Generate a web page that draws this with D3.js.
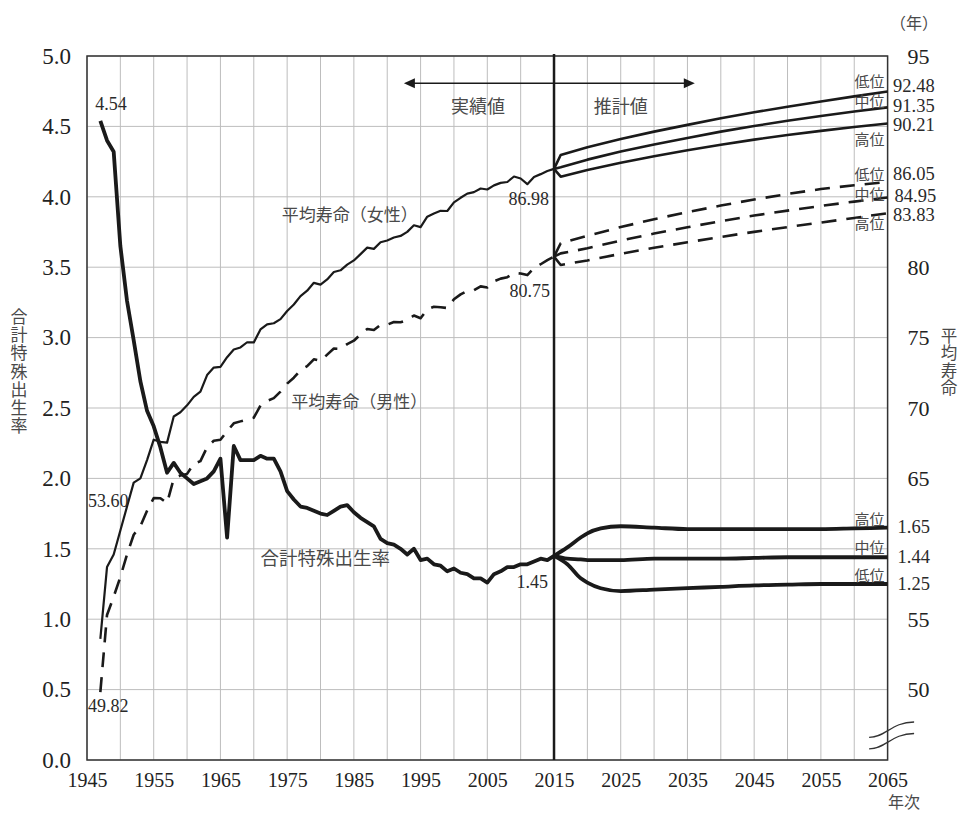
<!DOCTYPE html>
<html>
<head>
<meta charset="utf-8">
<script src="https://cdn.jsdelivr.net/npm/d3@7"></script>
<style>
  body { margin: 0; background: #fff; }
</style>
</head>
<body>
<div id="chart"></div>
<script>
// actual values 1947-2015
const actualYears = d3.range(1947, 2016);

const tfrActual = [
  4.54, 4.40, 4.32, 3.65, 3.26, 2.98, 2.69, 2.48, 2.37, 2.22,
  2.04, 2.11, 2.04, 2.00, 1.96, 1.98, 2.00, 2.05, 2.14, 1.58,
  2.23, 2.13, 2.13, 2.13, 2.16, 2.14, 2.14, 2.05, 1.91, 1.85,
  1.80, 1.79, 1.77, 1.75, 1.74, 1.77, 1.80, 1.81, 1.76, 1.72,
  1.69, 1.66, 1.57, 1.54, 1.53, 1.50, 1.46, 1.50, 1.42, 1.43,
  1.39, 1.38, 1.34, 1.36, 1.33, 1.32, 1.29, 1.29, 1.26, 1.32,
  1.34, 1.37, 1.37, 1.39, 1.39, 1.41, 1.43, 1.42, 1.45
];

const femaleActual = [
  53.60, 58.70, 59.60, 61.30, 63.00, 64.70, 65.00, 66.30, 67.75, 67.60,
  67.54, 69.40, 69.70, 70.19, 70.79, 71.16, 72.34, 72.87, 72.92, 73.61,
  74.15, 74.30, 74.67, 74.66, 75.58, 75.94, 76.02, 76.31, 76.89, 77.35,
  77.95, 78.33, 78.89, 78.76, 79.13, 79.66, 79.78, 80.18, 80.48, 80.93,
  81.39, 81.30, 81.77, 81.90, 82.11, 82.22, 82.51, 82.98, 82.85, 83.59,
  83.82, 84.01, 83.99, 84.60, 84.93, 85.23, 85.33, 85.59, 85.52, 85.81,
  85.99, 86.05, 86.44, 86.30, 85.90, 86.41, 86.61, 86.83, 86.98
];

const maleActual = [
  49.82, 55.30, 56.60, 58.00, 59.60, 61.00, 61.60, 62.70, 63.60, 63.59,
  63.24, 64.98, 65.21, 65.32, 66.03, 66.23, 67.21, 67.67, 67.74, 68.35,
  68.91, 69.05, 69.18, 69.31, 70.17, 70.50, 70.70, 71.16, 71.73, 72.15,
  72.69, 72.97, 73.46, 73.35, 73.79, 74.22, 74.20, 74.54, 74.78, 75.23,
  75.61, 75.54, 75.91, 75.92, 76.11, 76.09, 76.25, 76.57, 76.38, 77.01,
  77.19, 77.16, 77.10, 77.72, 78.07, 78.32, 78.36, 78.64, 78.56, 79.00,
  79.19, 79.29, 79.59, 79.55, 79.44, 79.94, 80.21, 80.50, 80.75
];

// projections
const tfrProjYears = [2015, 2017, 2019, 2020, 2022, 2025, 2030, 2035, 2040, 2045, 2050, 2055, 2060, 2065];
const tfrHigh = [1.45, 1.51, 1.58, 1.61, 1.645, 1.66, 1.65, 1.64, 1.64, 1.64, 1.64, 1.64, 1.645, 1.65];
const tfrMid  = [1.45, 1.43, 1.425, 1.42, 1.42, 1.42, 1.43, 1.43, 1.43, 1.435, 1.44, 1.44, 1.44, 1.44];
const tfrLow  = [1.45, 1.39, 1.29, 1.26, 1.22, 1.20, 1.21, 1.22, 1.23, 1.24, 1.245, 1.25, 1.25, 1.25];

const lifeProjYears = [2015, 2016, 2020, 2025, 2030, 2035, 2040, 2045, 2050, 2055, 2060, 2065];
const femaleLow  = [86.98, 87.97, 88.52, 89.10, 89.63, 90.11, 90.58, 91.00, 91.40, 91.77, 92.13, 92.48];
const femaleMid  = [86.98, 87.10, 87.64, 88.21, 88.72, 89.18, 89.63, 90.03, 90.40, 90.74, 91.06, 91.35];
const femaleHigh = [86.98, 86.43, 86.90, 87.42, 87.88, 88.30, 88.70, 89.06, 89.39, 89.68, 89.96, 90.21];
const maleLow  = [80.75, 81.70, 82.23, 82.85, 83.41, 83.91, 84.38, 84.81, 85.20, 85.55, 85.82, 86.05];
const maleMid  = [80.75, 80.98, 81.34, 81.89, 82.39, 82.84, 83.27, 83.67, 84.02, 84.35, 84.66, 84.95];
const maleHigh = [80.75, 80.16, 80.48, 80.95, 81.38, 81.77, 82.15, 82.51, 82.85, 83.17, 83.50, 83.83];

const xTicks = d3.range(1945, 2066, 10);
const xGrid = d3.range(1945, 2066, 5);
const leftTicks = d3.range(0, 5.01, 0.5);
// 60, 85 and 90 are left out on the right axis (the end values sit there)
const rightTicks = [50, 55, 65, 70, 75, 80, 95];

const SERIF = '"Liberation Serif", "DejaVu Serif", "Times New Roman", serif';
const JP = '"Noto Sans CJK JP", sans-serif';

const width = 961, height = 813;
const margin = { top: 56, right: 73.4, bottom: 53, left: 87 };

const svg = d3.select("#chart").append("svg")
  .attr("width", width)
  .attr("height", height);

const x = d3.scaleLinear().domain([1945, 2065]).range([margin.left, width - margin.right]);
const yT = d3.scaleLinear().domain([0, 5]).range([height - margin.bottom, margin.top]);
const yL = d3.scaleLinear().domain([45, 95]).range([height - margin.bottom, margin.top]);

const x0 = x.range()[0], x1 = x.range()[1];
const yb = yT.range()[0], yt = yT.range()[1];

// grid
svg.append("g")
  .selectAll("line")
  .data(xGrid)
  .join("line")
  .attr("x1", (d) => x(d)).attr("x2", (d) => x(d))
  .attr("y1", yt).attr("y2", yb)
  .attr("stroke", "#bdbdbd").attr("stroke-width", 1);

svg.append("g")
  .selectAll("line")
  .data(leftTicks)
  .join("line")
  .attr("x1", x0).attr("x2", x1)
  .attr("y1", (d) => yT(d)).attr("y2", (d) => yT(d))
  .attr("stroke", "#bdbdbd").attr("stroke-width", 1);

// frame
svg.append("rect")
  .attr("x", x0).attr("y", yt)
  .attr("width", x1 - x0).attr("height", yb - yt)
  .attr("fill", "none").attr("stroke", "#333").attr("stroke-width", 1.5);

// axes
function styleAxis(g, size) {
  g.select(".domain").remove();
  g.selectAll("text")
    .style("font-family", SERIF)
    .style("font-size", size + "px")
    .style("fill", "#222");
}

svg.append("g")
  .attr("transform", `translate(0,${yb})`)
  .call(d3.axisBottom(x).tickValues(xTicks).tickFormat(d3.format("d")).tickSize(0).tickPadding(13))
  .call((g) => styleAxis(g, 20));

svg.append("g")
  .attr("transform", `translate(${x0},0)`)
  .call(d3.axisLeft(yT).tickValues(leftTicks).tickFormat(d3.format(".1f")).tickSize(0).tickPadding(16))
  .call((g) => styleAxis(g, 23));

svg.append("g")
  .attr("transform", `translate(${x1},0)`)
  .call(d3.axisRight(yL).tickValues(rightTicks).tickFormat(d3.format("d")).tickSize(0).tickPadding(20))
  .call((g) => styleAxis(g, 22));

// break mark on right axis
const brk = svg.append("g").attr("fill", "none").attr("stroke", "#333").attr("stroke-width", 1.3);
[0, 11.5].forEach((off) => {
  const yr = yT(0.27) + off, yl = yT(0.16) + off;
  brk.append("path")
    .attr("d", `M${x1 - 18.5},${yl} C${x1 - 2},${yl} ${x1 + 4},${yr} ${x1 + 26.5},${yr}`);
});

// 2015 divider
svg.append("line")
  .attr("x1", x(2015)).attr("x2", x(2015))
  .attr("y1", yt - 2).attr("y2", yb)
  .attr("stroke", "#1a1a1a").attr("stroke-width", 2.5);

// lines
const lineT = d3.line().x((d) => x(d[0])).y((d) => yT(d[1]));
const lineL = d3.line().x((d) => x(d[0])).y((d) => yL(d[1]));
const smoothT = d3.line().curve(d3.curveMonotoneX).x((d) => x(d[0])).y((d) => yT(d[1]));

const zip = (xs, ys) => xs.map((v, i) => [v, ys[i]]);

const plot = svg.append("g").attr("fill", "none").attr("stroke", "#1a1a1a")
  .attr("stroke-linejoin", "round");

// female
plot.append("path").attr("d", lineL(zip(actualYears, femaleActual))).attr("stroke-width", 2.2);
[femaleLow, femaleMid, femaleHigh].forEach((s) => {
  plot.append("path").attr("d", lineL(zip(lifeProjYears, s))).attr("stroke-width", 2.6);
});

// male
plot.append("path").attr("d", lineL(zip(actualYears, maleActual)))
  .attr("stroke-width", 2.6).attr("stroke-dasharray", "15,10");
[maleLow, maleMid, maleHigh].forEach((s) => {
  plot.append("path").attr("d", lineL(zip(lifeProjYears, s)))
    .attr("stroke-width", 2.6).attr("stroke-dasharray", "15,10");
});

// fertility
plot.append("path").attr("d", lineT(zip(actualYears, tfrActual))).attr("stroke-width", 3.8);
[tfrHigh, tfrMid, tfrLow].forEach((s) => {
  plot.append("path").attr("d", smoothT(zip(tfrProjYears, s))).attr("stroke-width", 3.8);
});

// arrow: 実績値 / 推計値
const ay = yT(4.806);
const ax0 = x(1992.5), ax1 = x(2036.1);
svg.append("line").attr("x1", ax0 + 6).attr("x2", ax1 - 6).attr("y1", ay).attr("y2", ay)
  .attr("stroke", "#1a1a1a").attr("stroke-width", 1.6);
svg.append("path").attr("d", `M${ax0},${ay} L${ax0 + 11},${ay - 5} L${ax0 + 11},${ay + 5} Z`).attr("fill", "#1a1a1a");
svg.append("path").attr("d", `M${ax1},${ay} L${ax1 - 11},${ay - 5} L${ax1 - 11},${ay + 5} Z`).attr("fill", "#1a1a1a");

function txt(s, px, py, opts = {}) {
  return svg.append("text")
    .attr("x", px).attr("y", py)
    .attr("text-anchor", opts.anchor || "start")
    .style("font-family", opts.jp ? JP : SERIF)
    .style("font-size", (opts.size || 18) + "px")
    .style("fill", opts.jp ? "#4a4a4a" : "#2a2a2a")
    .text(s);
}

txt("実績値", x(2003.6), ay + 30, { jp: true, size: 18, anchor: "middle" });
txt("推計値", x(2025), ay + 30, { jp: true, size: 18, anchor: "middle" });

// series names
txt("平均寿命（女性）", x(1974.2), yL(84.35) + 15, { jp: true, size: 17 });
txt("平均寿命（男性）", x(1975.6), yL(71.1) + 15, { jp: true, size: 17 });
txt("合計特殊出生率", x(1971), yT(1.5) + 16, { jp: true, size: 18.5 });

// value callouts
txt("4.54", x(1947) - 5, yT(4.54) - 11, { size: 18 });
txt("53.60", x0 + 1, yL(64.4) + 20, { size: 18 });
txt("49.82", x0 + 1, yL(49.82) + 20, { size: 18 });
txt("86.98", x(2015) - 5, yL(86.98) + 36, { size: 18, anchor: "end" });
txt("80.75", x(2015) - 4, yL(80.75) + 40, { size: 18, anchor: "end" });
txt("1.45", x(2015) - 6, yT(1.45) + 32, { size: 18, anchor: "end" });

// right-edge labels: female
txt("低位", x1 - 3, yL(femaleLow[11]) - 4, { jp: true, size: 15, anchor: "end" });
txt("中位", x1 - 3, yL(femaleMid[11]) - 0.5, { jp: true, size: 15, anchor: "end" });
txt("高位", x1 - 3, yL(femaleHigh[11]) + 21.5, { jp: true, size: 15, anchor: "end" });
txt("92.48", x1 + 5.5, yL(femaleLow[11]) + 1, { size: 18.5 });
txt("91.35", x1 + 5.5, yL(femaleMid[11]) + 5, { size: 18.5 });
txt("90.21", x1 + 5.5, yL(femaleHigh[11]) + 8, { size: 18.5 });

// right-edge labels: male
txt("低位", x1 - 3, yL(maleLow[11]) - 2, { jp: true, size: 15, anchor: "end" });
txt("中位", x1 - 3, yL(maleMid[11]) + 2.5, { jp: true, size: 15, anchor: "end" });
txt("高位", x1 - 3, yL(maleHigh[11]) + 15.5, { jp: true, size: 15, anchor: "end" });
txt("86.05", x1 + 5.5, yL(maleLow[11]) - 2, { size: 18.5 });
txt("84.95", x1 + 7, yL(maleMid[11]) + 4, { size: 18.5 });
txt("83.83", x1 + 5.5, yL(maleHigh[11]) + 8, { size: 18.5 });

// right-edge labels: fertility
txt("高位", x1 - 3, yT(tfrHigh[13]) - 3, { jp: true, size: 15, anchor: "end" });
txt("中位", x1 - 3, yT(tfrMid[13]) - 4.5, { jp: true, size: 15, anchor: "end" });
txt("低位", x1 - 3, yT(tfrLow[13]) - 3, { jp: true, size: 15, anchor: "end" });
txt("1.65", x1 + 10, yT(tfrHigh[13]) + 5.5, { size: 18.5 });
txt("1.44", x1 + 10, yT(tfrMid[13]) + 5.5, { size: 18.5 });
txt("1.25", x1 + 10, yT(tfrLow[13]) + 5.5, { size: 18.5 });

// axis titles, written top to bottom
txt("合計特殊出生率", 19, 308, { jp: true, size: 17 })
  .style("writing-mode", "vertical-rl")
  .style("letter-spacing", "1.2px");
txt("平均寿命", 949, 327, { jp: true, size: 16.5 })
  .style("writing-mode", "vertical-rl")
  .style("letter-spacing", "1px");
txt("（年）", 914, 29, { jp: true, size: 16, anchor: "middle" });
txt("年次", 904, 808, { jp: true, size: 16, anchor: "middle" });
</script>
</body>
</html>
